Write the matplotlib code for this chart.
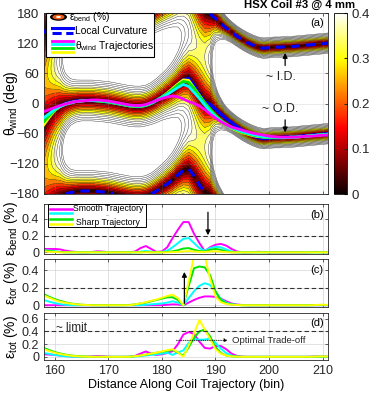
import numpy as np
import matplotlib
matplotlib.use('Agg')
from matplotlib import pyplot as plt
from matplotlib import colors, cm
from matplotlib.patches import Rectangle, Ellipse
from matplotlib.lines import Line2D

plt.rcParams['font.family'] = ['Liberation Sans', 'DejaVu Sans']
plt.rcParams['mathtext.fontset'] = 'custom'
plt.rcParams['mathtext.rm'] = 'Liberation Sans'
plt.rcParams['mathtext.it'] = 'Liberation Sans:italic'
plt.rcParams['mathtext.bf'] = 'Liberation Sans:bold'

# ---- data (one value per bin, 158..211) ----
bins = np.arange(158, 212)

# local curvature direction (O.D. side, deg) and peak bending strain (%)
curv_angle = [-40, -24, -12, -5, 0, 3, 5, 6, 6, 6,
              5, 4, 3, 1, -1, -3, -5, -6, -6, -4,
              0, 6, 13, 20, 28, 38, 47, 50, 36, 18,
              3, -2, -11, -21, -30, -38, -46, -53, -59, -64,
              -68, -70, -69, -68, -68, -67, -67, -66, -65, -64,
              -63, -62, -61, -60]
curv_peak = [0.25, 0.30, 0.37, 0.45, 0.60, 0.72, 0.78, 0.80, 0.80, 0.80,
             0.80, 0.80, 0.80, 0.80, 0.80, 0.80, 0.80, 0.80, 0.80, 0.80,
             0.78, 0.75, 0.72, 0.68, 0.63, 0.57, 0.50, 0.44, 0.38, 0.35,
             0.36, 0.42, 0.70, 1.00, 1.30, 1.45, 1.50, 1.50, 1.50, 1.50,
             1.50, 1.50, 1.50, 1.50, 1.50, 1.50, 1.50, 1.50, 1.50, 1.50,
             1.50, 1.50, 1.50, 1.50]

# winding angle trajectories (deg): smooth -> sharp
wind_magenta = [-16, -12, -8, -4, -1, 2, 4, 5, 6, 7,
                7, 6, 5, 3, 1, -1, -3, -4, -4, -2,
                2, 6, 10, 13, 15, 13, 9, 4, 0, -5,
                -12, -21, -29, -36, -42, -47, -50, -53, -56, -59,
                -61, -63, -65, -66, -67, -67, -67, -67, -66, -65,
                -65, -64, -63, -63]
wind_cyan = [-28, -20, -12, -6, -2, 1, 4, 5, 6, 6,
             6, 5, 4, 2, 0, -2, -4, -5, -5, -3,
             1, 6, 12, 18, 25, 32, 38, 34, 22, 10,
             -3, -15, -26, -35, -42, -48, -52, -56, -59, -62,
             -64, -66, -67, -67, -68, -68, -67, -67, -66, -65,
             -64, -63, -62, -62]
wind_green = [-36, -24, -13, -6, -1, 2, 4, 5, 6, 6,
              5, 4, 3, 1, -1, -3, -5, -6, -6, -4,
              0, 6, 13, 20, 28, 37, 44, 42, 30, 15,
              1, -11, -23, -33, -41, -48, -53, -57, -60, -63,
              -65, -67, -68, -68, -68, -68, -67, -67, -66, -65,
              -64, -63, -62, -61]
wind_yellow = [-42, -27, -14, -6, -1, 2, 4, 5, 6, 6,
               5, 4, 3, 1, -1, -3, -5, -6, -6, -4,
               0, 6, 13, 21, 30, 39, 47, 46, 31, 16,
               1, -12, -24, -34, -42, -49, -54, -58, -61, -64,
               -66, -67, -68, -68, -68, -68, -67, -67, -66, -65,
               -64, -63, -62, -61]

# bending strain along trajectories (%)
bend_magenta = [0.04, 0.04, 0.04, 0.035, 0.02, 0.01, 0.005, 0, 0, 0.005,
                0.012, 0.008, 0.002, 0, 0, 0, 0, 0.01, 0.05, 0.075,
                0.04, 0.005, 0.01, 0.06, 0.17, 0.27, 0.36, 0.36, 0.22, 0.11,
                0.015, 0.06, 0.09, 0.1, 0.08, 0.04, 0.01, 0, 0, 0.002,
                0.006, 0.003, 0, 0, 0, 0, 0, 0, 0, 0,
                0.003, 0.005, 0.002, 0]
bend_cyan = [0.025, 0.02, 0.012, 0.005, 0, 0, 0, 0, 0, 0,
             0, 0, 0, 0, 0, 0, 0, 0, 0.008, 0.015,
             0.008, 0, 0.005, 0.02, 0.06, 0.11, 0.16, 0.17, 0.11, 0.05,
             0.02, 0.05, 0.065, 0.06, 0.035, 0.01, 0, 0, 0, 0,
             0, 0, 0, 0, 0, 0, 0, 0, 0, 0,
             0, 0, 0, 0]
bend_green = [0.02, 0.015, 0.008, 0.003, 0, 0, 0, 0, 0, 0,
              0, 0, 0, 0, 0, 0, 0, 0, 0, 0.005,
              0, 0, 0, 0.005, 0.012, 0.025, 0.045, 0.05, 0.03, 0.015,
              0.01, 0.03, 0.04, 0.03, 0.01, 0, 0, 0, 0, 0,
              0, 0, 0, 0, 0, 0, 0, 0, 0, 0,
              0, 0, 0, 0]
bend_yellow = [0.01, 0.008, 0.004, 0, 0, 0, 0, 0, 0, 0,
               0, 0, 0, 0, 0, 0, 0, 0, 0, 0,
               0, 0, 0, 0, 0.003, 0.006, 0.01, 0.015, 0.01, 0.005,
               0.005, 0.01, 0.012, 0.008, 0.002, 0, 0, 0, 0, 0,
               0, 0, 0, 0, 0, 0, 0, 0, 0, 0,
               0, 0, 0, 0]

# torsional strain along trajectories (%)
tor_magenta = [0, 0, 0, 0, 0, 0, 0, 0, 0, 0,
               0, 0, 0, 0, 0, 0, 0, 0, 0, 0,
               0, 0, 0, 0.005, 0.01, 0.008, 0, 0.03, 0.06, 0.085,
               0.1, 0.1, 0.095, 0.075, 0.045, 0.02, 0.008, 0.003, 0, 0,
               0, 0, 0, 0, 0, 0, 0, 0, 0, 0,
               0, 0, 0, 0]
tor_cyan = [0.06, 0.04, 0.025, 0.012, 0.005, 0, 0, 0, 0, 0,
            0, 0, 0, 0, 0, 0, 0, 0, 0, 0.005,
            0.01, 0.015, 0.02, 0.03, 0.045, 0.03, 0, 0.08, 0.16, 0.22,
            0.25, 0.23, 0.15, 0.07, 0.03, 0.012, 0.005, 0, 0, 0,
            0, 0, 0, 0, 0, 0, 0, 0, 0, 0,
            0, 0, 0, 0]
tor_green = [0.125, 0.095, 0.07, 0.05, 0.033, 0.02, 0.012, 0.006, 0.003, 0,
             0, 0, 0, 0, 0, 0, 0.003, 0.01, 0.02, 0.03,
             0.045, 0.06, 0.075, 0.09, 0.09, 0.06, 0, 0.22, 0.42, 0.44,
             0.43, 0.34, 0.16, 0.06, 0.02, 0.008, 0.003, 0, 0, 0,
             0, 0, 0, 0, 0, 0, 0, 0, 0, 0,
             0, 0.003, 0.004, 0.003]
tor_yellow = [0.11, 0.085, 0.06, 0.04, 0.028, 0.017, 0.01, 0.005, 0.002, 0,
              0, 0, 0, 0, 0, 0, 0, 0.01, 0.02, 0.035,
              0.05, 0.065, 0.085, 0.105, 0.12, 0.08, 0, 0.27, 0.56, 0.64,
              0.56, 0.3, 0.1, 0.035, 0.015, 0.006, 0.002, 0, 0, 0,
              0, 0, 0, 0, 0, 0, 0, 0, 0, 0,
              0, 0.004, 0.005, 0.004]

# total strain along trajectories (%)
tot_magenta = [0.04, 0.035, 0.03, 0.02, 0.012, 0.006, 0.002, 0, 0.002, 0.008,
               0.012, 0.008, 0.003, 0, 0, 0, 0, 0.015, 0.05, 0.085,
               0.05, 0.03, 0.04, 0.06, 0.09, 0.2, 0.35, 0.39, 0.36, 0.24,
               0.14, 0.13, 0.17, 0.17, 0.12, 0.05, 0.015, 0.003, 0, 0,
               0, 0, 0, 0, 0, 0, 0, 0, 0, 0,
               0.003, 0.004, 0.002, 0]
tot_cyan = [0.06, 0.045, 0.03, 0.018, 0.008, 0.003, 0, 0, 0, 0,
            0, 0, 0, 0, 0, 0, 0, 0.005, 0.012, 0.022,
            0.03, 0.04, 0.05, 0.065, 0.03, 0.07, 0.1, 0.22, 0.28, 0.27,
            0.27, 0.29, 0.22, 0.13, 0.06, 0.02, 0.005, 0, 0, 0,
            0, 0, 0, 0, 0, 0, 0, 0, 0, 0,
            0, 0, 0, 0]
tot_green = [0.14, 0.105, 0.075, 0.053, 0.035, 0.022, 0.013, 0.007, 0.003, 0,
             0, 0, 0, 0, 0, 0, 0.003, 0.01, 0.02, 0.035,
             0.05, 0.065, 0.08, 0.095, 0.105, 0.065, 0.02, 0.15, 0.3, 0.4,
             0.43, 0.32, 0.15, 0.06, 0.02, 0.007, 0.002, 0, 0, 0,
             0, 0, 0, 0, 0, 0, 0, 0, 0, 0,
             0, 0.003, 0.004, 0.003]
tot_yellow = [0.12, 0.09, 0.065, 0.045, 0.03, 0.018, 0.01, 0.005, 0.002, 0,
              0, 0, 0, 0, 0, 0, 0, 0.01, 0.02, 0.035,
              0.05, 0.065, 0.085, 0.105, 0.12, 0.07, 0, 0.18, 0.37, 0.58,
              0.43, 0.28, 0.12, 0.05, 0.02, 0.007, 0.002, 0, 0, 0,
              0, 0, 0, 0, 0, 0, 0, 0, 0, 0,
              0, 0.004, 0.005, 0.004]

traj_colors = ['#ff00ff', '#00ffff', '#00e600', '#ffff00']

# ---- figure ----
W, H = 374, 393
fig = plt.figure(figsize=(W / 100, H / 100), dpi=100)


def box(l, t, r, b):
    return [l / W, 1 - b / H, (r - l) / W, (b - t) / H]


def fx(px):
    return px / W


def fy(py):
    return 1 - py / H


def style_axes(ax, fs):
    for s in ax.spines.values():
        s.set_color('#262626')
        s.set_linewidth(0.6)
    ax.tick_params(direction='in', length=2.5, width=0.5, labelsize=fs,
                   colors='#262626', top=True, right=True)
    ax.set_xlim(158, 211)
    ax.set_xticks(np.arange(160, 211, 10))


# (a) bending strain map
ax_a = fig.add_axes(box(44, 13, 328, 194))
theta = np.linspace(-180, 180, 721)
eps_map = np.array(curv_peak)[None, :] * np.abs(
    np.sin(np.radians(theta[:, None] - np.array(curv_angle)[None, :])))
cmap = plt.get_cmap('hot').copy()
cmap.set_over('white')
norm = colors.Normalize(0, 0.4)
ax_a.contourf(bins, theta, eps_map, levels=np.append(np.arange(0, 0.401, 0.04), 5.0),
              cmap=cmap, norm=norm)
ax_a.contour(bins, theta, eps_map, levels=np.arange(0.04, 0.521, 0.04),
             colors='k', linewidths=0.3, alpha=0.85)

ax_a.plot(bins, curv_angle, color='b', lw=2.4, zorder=3)
for w, c in zip([wind_yellow, wind_green, wind_cyan, wind_magenta], traj_colors[::-1]):
    ax_a.plot(bins, w, color=c, lw=2.0, zorder=4)

id_angle = (np.array(curv_angle) % 360) - 180.0
xs, ys = [bins[0]], [id_angle[0]]
for i in range(1, len(bins)):
    if abs(id_angle[i] - id_angle[i - 1]) > 180:
        xs.append(np.nan)
        ys.append(np.nan)
    xs.append(bins[i])
    ys.append(id_angle[i])
ax_a.plot(xs, ys, color='b', lw=2.2, dashes=(3, 2), zorder=5)

style_axes(ax_a, 9.5)
ax_a.set_ylim(-180, 180)
ax_a.set_yticks(np.arange(-180, 181, 60))
ax_a.set_xticklabels([])
ax_a.grid(True, color='#999999', lw=0.4, alpha=0.35)
ax_a.set_axisbelow(False)
ax_a.set_ylabel(r'$\mathrm{\theta_{wind}}$ (deg)', fontsize=10)
ax_a.yaxis.set_label_coords(-0.085, 0.5)

ax_a.annotate('', xy=(203, 106), xytext=(203, 70),
              arrowprops=dict(arrowstyle='-|>', color='k', lw=0.9, mutation_scale=7), zorder=6)
ax_a.annotate('', xy=(203, -63), xytext=(203, -27),
              arrowprops=dict(arrowstyle='-|>', color='k', lw=0.9, mutation_scale=7), zorder=6)
ax_a.text(202.2, 52, '~ I.D.', ha='center', va='center', fontsize=9, color='#262626', zorder=6)
ax_a.text(202, -11, '~ O.D.', ha='center', va='center', fontsize=9, color='#262626', zorder=6)
ax_a.text(0.96, 0.945, '(a)', transform=ax_a.transAxes, ha='center', va='center', fontsize=8)

# colorbar
cax = fig.add_axes(box(334, 13, 347, 194))
cb = fig.colorbar(cm.ScalarMappable(norm=norm, cmap='hot'), cax=cax, ticks=[0, 0.1, 0.2, 0.3, 0.4])
cb.ax.set_yticklabels(['0', '0.1', '0.2', '0.3', '0.4'])
cb.ax.tick_params(labelsize=9.5, length=2, direction='in', colors='#262626')
cb.outline.set_linewidth(0.6)

fig.text(fx(300), fy(5), 'HSX Coil #3 @ 4 mm', ha='center', va='center',
         fontsize=8.2, fontweight='bold')

# legend (a)
fig.add_artist(Rectangle((fx(46), fy(57)), 108 / W, 44 / H, transform=fig.transFigure,
                         facecolor='white', edgecolor='k', lw=0.8, zorder=10))
fig.add_artist(Ellipse((fx(58.5), fy(17)), 17 / W, 7.5 / H, transform=fig.transFigure,
                       facecolor='black', edgecolor='none', zorder=11))
fig.add_artist(Ellipse((fx(58.5), fy(17)), 12 / W, 5 / H, transform=fig.transFigure,
                       facecolor='#f05a10', edgecolor='none', zorder=11))
fig.add_artist(Ellipse((fx(58.5), fy(17)), 5 / W, 2 / H, transform=fig.transFigure,
                       facecolor='white', edgecolor='none', zorder=11))
fig.text(fx(69), fy(17), r'$\mathrm{\varepsilon_{bend}}$ (%)', fontsize=7.4, va='center', zorder=11)
fig.add_artist(Line2D([fx(52), fx(73)], [fy(28), fy(28)], transform=fig.transFigure,
                      color='b', lw=2.2, zorder=11))
fig.add_artist(Line2D([fx(52), fx(73)], [fy(33), fy(33)], transform=fig.transFigure,
                      color='b', lw=2.2, dashes=(3, 1.5), zorder=11))
fig.text(fx(75), fy(30.5), 'Local Curvature', fontsize=7.4, va='center', zorder=11)
for yy, c in zip([40.5, 44.3, 48, 51.7], traj_colors):
    fig.add_artist(Line2D([fx(52), fx(73)], [fy(yy), fy(yy)], transform=fig.transFigure,
                          color=c, lw=2.0, zorder=11))
fig.text(fx(75), fy(46), r'$\mathrm{\theta_{wind}}$ Trajectories', fontsize=7.4,
         va='center', zorder=11)

# (b), (c), (d) strain lines
panels = [
    (box(44, 204, 328, 254), [bend_magenta, bend_cyan, bend_green, bend_yellow],
     (-0.02, 0.575), [0, 0.2, 0.4], ['0', '0.2', '0.4'], 0.2, r'$\mathrm{\varepsilon_{bend}}$ (%)', '(b)'),
    (box(44, 259, 328, 307), [tor_magenta, tor_cyan, tor_green, tor_yellow],
     (-0.02, 0.525), [0, 0.2, 0.4], ['0', '0.2', '0.4'], 0.2, r'$\mathrm{\varepsilon_{tor}}$ (%)', '(c)'),
    (box(44, 313, 328, 360), [tot_magenta, tot_cyan, tot_green, tot_yellow],
     (-0.05, 0.69), [0, 0.2, 0.4, 0.6], ['0', '0.2', '0.4', '0.6'], 0.4, r'$\mathrm{\varepsilon_{tot}}$ (%)', '(d)'),
]
axes = []
for rect, series, ylim, yt, ytl, ref, ylab, tag in panels:
    ax = fig.add_axes(rect)
    for s, c in zip(series, traj_colors):
        ax.plot(bins, s, color=c, lw=1.4)
    ax.axhline(ref, color='#333333', lw=0.8, dashes=(4, 2.5))
    style_axes(ax, 9)
    ax.set_ylim(*ylim)
    ax.set_yticks(yt)
    ax.set_yticklabels(ytl)
    ax.grid(True, color='#cccccc', lw=0.5, alpha=0.8)
    ax.set_axisbelow(True)
    ax.set_ylabel(ylab, fontsize=10)
    ax.yaxis.set_label_coords(-0.085, 0.5)
    ax.text(0.96, 0.78, tag, transform=ax.transAxes, ha='center', va='center', fontsize=8)
    axes.append(ax)

ax_b, ax_c, ax_d = axes
ax_b.set_xticklabels([])
ax_c.set_xticklabels([])
ax_d.set_xlabel('Distance Along Coil Trajectory (bin)', fontsize=9, labelpad=1.5)

ax_b.annotate('', xy=(188.6, 0.17), xytext=(188.6, 0.51),
              arrowprops=dict(arrowstyle='-|>', color='k', lw=0.9, mutation_scale=7))
ax_c.annotate('', xy=(184.2, 0.41), xytext=(184.2, -0.01),
              arrowprops=dict(arrowstyle='-|>', color='k', lw=0.9, mutation_scale=7))
ax_d.text(160.3, 0.46, '~ limit', ha='left', va='center', fontsize=8.5, color='#262626')
ax_d.annotate('', xy=(192.8, 0.26), xytext=(182.2, 0.26),
              arrowprops=dict(arrowstyle='-|>', color='k', lw=0.6, ls=':', mutation_scale=5))
ax_d.text(193.1, 0.26, 'Optimal Trade-off', ha='left', va='center', fontsize=6.8, color='#262626')

# legend (b)
fig.add_artist(Rectangle((fx(48), fy(227)), 98 / W, 23 / H, transform=fig.transFigure,
                         facecolor='white', edgecolor='k', lw=0.7, zorder=10))
for yy, c in zip([209, 213.3, 219, 224.3], traj_colors):
    fig.add_artist(Line2D([fx(50), fx(72)], [fy(yy), fy(yy)], transform=fig.transFigure,
                          color=c, lw=1.8, zorder=11))
fig.text(fx(108), fy(208.5), 'Smooth Trajectory', fontsize=6.2, ha='center', va='center', zorder=11)
fig.text(fx(108), fy(214), '...', fontsize=4, ha='center', va='center', color='#555555', zorder=11)
fig.text(fx(108), fy(222), 'Sharp Trajectory', fontsize=6.2, ha='center', va='center', zorder=11)

fig.savefig('out.png', dpi=100)
